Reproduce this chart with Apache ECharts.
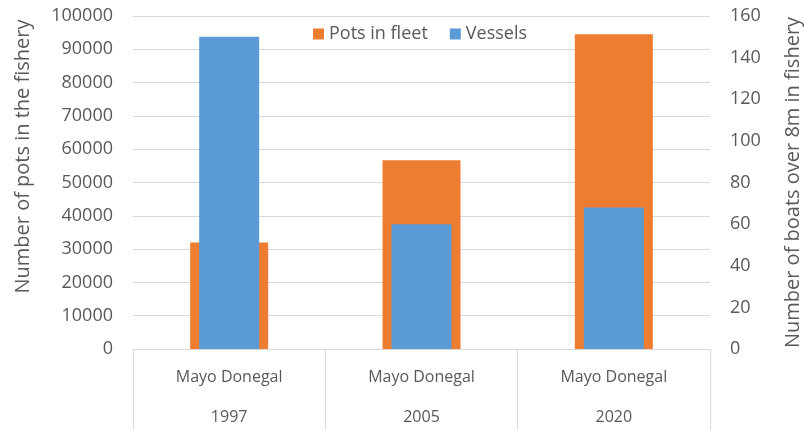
<!DOCTYPE html>
<html>
<head>
<meta charset="utf-8">
<script src="https://cdn.jsdelivr.net/npm/echarts@6/dist/echarts.min.js"></script>
<style>
  html, body { margin: 0; padding: 0; background: #fff; }
  #main { width: 805px; height: 430px; }
</style>
</head>
<body>
<div id="main"></div>
<script>
// data
var years = ['1997', '2005', '2020'];
var region = 'Mayo Donegal';
var pots = [32000, 56700, 94500];
var vessels = [150, 60, 68];

var textColor = '#595959';
var gridColor = '#d9d9d9';
var font = 'Open Sans';

var myChart = echarts.init(document.getElementById('main'));

var option = {
    animation: false,
    textStyle: { fontFamily: font },
    legend: {
        top: 20,
        left: 308,
        icon: 'rect',
        itemWidth: 11,
        itemHeight: 11,
        itemGap: 22,
        textStyle: { color: textColor, fontSize: 18, fontFamily: font },
        data: ['Pots in fleet', 'Vessels']
    },
    grid: { left: 133, right: 95, top: 16, bottom: 81, outerBoundsMode: 'none' },
    xAxis: [{
        type: 'category',
        data: years,
        axisLine: { lineStyle: { color: gridColor, width: 1 } },
        axisTick: { show: true, length: 81, lineStyle: { color: gridColor } },
        axisLabel: {
            color: textColor,
            fontSize: 16,
            fontFamily: font,
            margin: 8,
            lineHeight: 40,
            formatter: function (v) { return region + '\n' + v; }
        }
    }, {
        type: 'category',
        data: years,
        show: false
    }],
    yAxis: [{
        type: 'value',
        min: 0,
        max: 100000,
        interval: 10000,
        name: 'Number of pots in the fishery',
        nameLocation: 'middle',
        nameGap: 100,
        nameTextStyle: { color: textColor, fontSize: 20, fontFamily: font, padding: [0, 0, 0, 52] },
        axisLabel: {
            color: textColor, fontSize: 18, fontFamily: font, margin: 20,
            formatter: function (v) { return String(v); }
        },
        splitLine: { lineStyle: { color: gridColor } },
        axisLine: { show: false },
        axisTick: { show: false }
    }, {
        type: 'value',
        min: 0,
        max: 160,
        interval: 20,
        position: 'right',
        name: 'Number of boats over 8m in fishery',
        nameLocation: 'middle',
        nameRotate: 90,
        nameGap: 73,
        nameTextStyle: { color: textColor, fontSize: 20, fontFamily: font },
        axisLabel: { color: textColor, fontSize: 18, fontFamily: font, margin: 20 },
        splitLine: { show: false },
        axisLine: { show: false },
        axisTick: { show: false }
    }],
    series: [{
        name: 'Pots in fleet',
        type: 'bar',
        xAxisIndex: 0,
        yAxisIndex: 0,
        barWidth: 78,
        itemStyle: { color: '#ED7D31' },
        data: pots
    }, {
        name: 'Vessels',
        type: 'bar',
        xAxisIndex: 1,
        yAxisIndex: 1,
        barWidth: 60,
        itemStyle: { color: '#5B9BD5' },
        data: vessels
    }]
};

myChart.setOption(option);
</script>
</body>
</html>
